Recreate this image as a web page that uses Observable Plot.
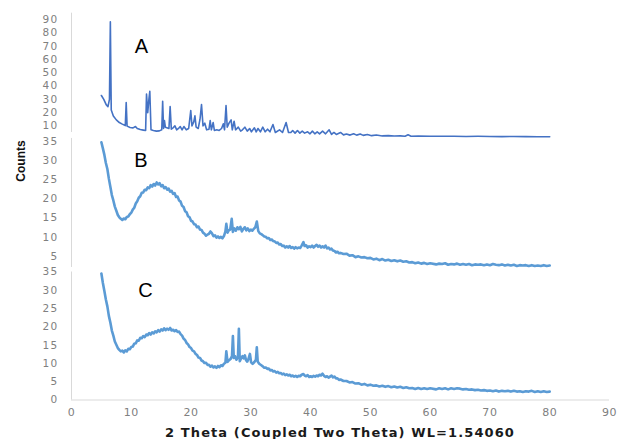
<!DOCTYPE html>
<html><head><meta charset="utf-8">
<script src="https://cdn.jsdelivr.net/npm/d3@7"></script>
<script src="https://cdn.jsdelivr.net/npm/@observablehq/plot@0.6"></script>
<style>
body{margin:0;background:#fff;}
#chart{position:relative;width:618px;height:439px;overflow:hidden;background:#fff;}
#chart svg{position:absolute;left:0;}
#chart svg text{letter-spacing:1.3px;}
#chart svg g[aria-label="x-axis tick label"] text{letter-spacing:0.6px;}
.ylab{position:absolute;left:-19px;top:154px;width:80px;line-height:16px;text-align:center;transform:rotate(-90deg);transform-origin:50% 50%;font:bold 12px "Liberation Sans",sans-serif;color:#111;}
.xlab{position:absolute;left:140px;top:425px;width:400px;line-height:16px;text-align:center;font:bold 13px "DejaVu Sans",sans-serif;letter-spacing:1.1px;color:#1a1a1a;}
</style></head>
<body><div id="chart"></div>
<script>
// ---- data ----
const xTicks = [0,10,20,30,40,50,60,70,80,90];
const yTicksA = [10,20,30,40,50,60,70,80,90];
const yTicksB = [5,10,15,20,25,30,35];
const yTicksC = [0,5,10,15,20,25,30,35];
const panelNames = ["A","B","C"];
const xTitle = "2 Theta (Coupled Two Theta) WL=1.54060";
const yTitle = "Counts";

const traceA = [[5.0,32.9],[5.4,30],[5.8,26],[6.1,24.5],[6.35,30],[6.5,88.5],[6.65,22],[7.0,17.5],[7.5,14.5],[8.0,12.5],[8.5,11.3],[9.0,10.2],[9.15,27.5],[9.3,9.8],[9.8,8.8],[10.3,8.5],[10.7,9.5],[11.0,8.0],[11.5,7.2],[12.0,6.8],[12.4,6.5],[12.55,34],[12.75,20],[12.95,30],[13.1,36],[13.3,7],[13.7,6.5],[14.2,6],[14.7,6.2],[15.1,7],[15.25,28.5],[15.4,8],[15.55,14],[15.7,9],[16.3,8],[16.5,24.5],[16.7,7.5],[17.0,8.5],[17.3,10],[17.6,7],[18.0,8.5],[18.2,9.5],[18.5,7],[18.8,9.5],[19.2,7],[19.6,8],[19.95,21.5],[20.15,10],[20.45,13],[20.65,17.5],[20.85,9],[21.2,8],[21.5,15],[21.75,26],[22.0,10],[22.3,12],[22.6,7],[23.0,7.5],[23.2,14],[23.4,7],[23.7,12.5],[23.9,6.5],[24.3,7],[24.7,6.5],[25.1,8],[25.4,11.5],[25.6,7],[25.85,25.4],[26.05,9],[26.35,12],[26.7,14.5],[26.9,7],[27.2,13.5],[27.45,7],[27.9,9],[28.3,6],[28.6,7],[29.0,9],[29.4,6],[29.8,8],[30.1,5.5],[30.6,8.5],[30.9,5.5],[31.2,8],[31.6,5.5],[32.0,9],[32.4,5.5],[32.8,7.5],[33.2,5.5],[33.7,11],[34.1,5],[34.8,7],[35.3,5],[35.9,12.5],[36.3,5],[36.7,5],[37.0,6.5],[37.4,4.5],[37.8,6.5],[38.2,4.5],[38.6,6],[39.0,4.5],[39.5,5.5],[39.9,4],[40.3,6],[40.7,4],[41.1,5.5],[41.5,4],[42.0,6],[42.5,4],[43.1,7],[43.5,3.5],[43.9,5],[44.3,3.5],[45.0,5],[45.5,3.2],[46.0,3.8],[46.6,3],[47.2,4],[47.7,3],[48.3,3.8],[48.8,2.8],[49.5,3.5],[50.2,2.6],[51.0,3.1],[52.0,2.4],[53.0,2.6],[54.0,2.3],[55.0,2.4],[55.8,2.2],[56.3,3.3],[56.8,2.2],[58.0,2.3],[60.0,2.1],[62.0,2.2],[64.0,2.1],[66.0,2.0],[68.0,2.1],[70.0,2.0],[72.0,1.9],[74.0,2.0],[76.0,1.9],[78.0,1.8],[80.0,1.8]];

const traceB = [[5.0,34.8],[5.25,33.2],[5.5,31.5],[5.75,29.4],[6.0,27.8],[6.25,25.3],[6.5,23.2],[6.75,21.0],[7.0,19.6],[7.25,18.0],[7.5,16.9],[7.75,15.8],
[8.0,15.2],[8.25,14.8],[8.5,14.5],[8.75,14.9],[9.0,14.7],[9.25,15.3],[9.5,15.4],[9.75,16.0],[10.0,16.4],[10.25,17.2],[10.5,17.7],[10.75,18.8],[11.0,19.4],[11.25,20.3],[11.5,20.7],[11.75,21.6],[12.0,21.7],[12.25,22.4],[12.5,22.3],[12.75,23.0],[13.0,22.8],[13.25,23.6],[13.5,23.2],[13.75,23.9],[14.0,23.5],[14.25,24.3],[14.5,23.8],[14.75,24.1],[15.0,23.3],[15.25,23.6],[15.5,22.8],[15.75,23.1],[16.0,22.4],[16.25,22.7],[16.5,21.9],[16.75,22.1],[17.0,21.3],[17.25,21.5],[17.5,20.5],[17.75,20.6],[18.0,19.6],[18.25,19.3],[18.5,18.2],[18.75,17.9],[19.0,16.8],[19.25,16.5],[19.5,15.5],[19.75,15.2],[20.0,14.3],[20.25,14.1],[20.5,13.4],[20.75,13.3],[21.0,12.6],[21.25,12.8],[21.5,12.0],[21.75,11.9],[22.0,11.2],[22.25,10.9],[22.5,10.4],[22.75,10.7],[23.0,10.9],[23.25,11.5],[23.5,11.0],[23.75,10.3],[24.0,10.5],[24.25,9.9],[24.5,10.2],[24.75,9.8],[25.0,10.1],[25.25,9.7],[25.5,10.3],[25.75,11.5],[25.9,13.5],[26.1,11.2],[26.3,11.8],[26.55,12.0],[26.8,14.8],[27.0,11.4],[27.25,12.3],[27.5,11.7],[27.75,12.6],[28.0,12.1],[28.25,12.7],[28.5,11.5],[28.75,12.2],[29.0,12.6],[29.25,11.8],[29.5,12.3],[29.75,11.6],[30.0,12.0],[30.25,11.7],[30.5,12.2],[30.75,12.6],[31.0,14.1],[31.25,11.6],[31.5,11.0],[31.75,10.8],[32.0,10.5],[32.25,10.2],[32.5,10.1],[32.75,9.7],[33.0,9.8],[33.25,9.3],[33.5,9.4],[33.75,9.0],[34.0,8.9],[34.25,8.5],[34.5,8.6],[34.75,8.1],[35.0,8.2],[35.25,7.7],[35.5,7.8],[35.75,7.3],[36.0,7.6],[36.25,7.3],[36.5,7.7],[36.75,7.2],[37.0,7.4],[37.25,7.0],[37.5,7.4],[37.75,7.1],[38.0,7.3],[38.25,7.2],[38.5,7.8],[38.8,8.7],[39.0,7.7],[39.25,7.9],[39.5,7.3],[39.75,7.6],[40.0,7.4],[40.25,7.8],[40.5,7.3],[40.75,7.7],[41.0,8.0],[41.25,7.5],[41.5,7.8],[41.75,7.3],[42.0,7.6],[42.25,7.3],[42.5,7.8],[42.75,7.1],[43.0,7.3],[43.25,6.8],[43.5,7.0],[43.75,6.5],[44.0,6.4],[44.25,6.0],[44.5,6.2],[44.75,5.8],[45.0,5.9],
[45.5,5.6],[46,5.7],[46.5,5.2],[47,5.3],[47.5,4.8],[48,5.0],[48.5,4.7],[49,4.8],[49.5,4.5],[50,4.6],[50.5,4.2],[51,4.4],[51.5,4.0],[52,4.3],[52.5,3.9],[53,4.1],[53.5,3.8],[54,4.0],[54.5,3.7],[55,3.9],[55.5,3.6],[56,3.7],[56.5,3.4],[57,3.5],[57.5,3.2],[58,3.4],[58.5,3.1],[59,3.3],[59.5,3.0],[60,3.2],[61,2.9],[61.5,3.1],[62,3.0],[62.5,3.2],[63,2.8],[63.5,3.0],[64,2.9],[64.5,3.1],[65,2.8],[65.5,3.0],[66,2.8],[66.5,3.0],[67,2.7],[67.5,2.9],[68,2.8],[68.5,2.9],[69,2.7],[69.5,2.9],[70,2.7],[70.5,3.0],[71,2.8],[71.5,2.7],[72,2.9],[72.5,2.6],[73,2.8],[73.5,2.6],[74,2.8],[74.5,2.5],[75,2.7],[75.5,2.6],[76,2.7],[76.5,2.5],[77,2.7],[77.5,2.5],[78,2.6],[78.5,2.5],[79,2.7],[79.5,2.5],[80,2.6]];

const traceC = [[5.0,34.6],[5.25,32.0],[5.5,29.8],[5.75,27.5],[6.0,25.6],[6.25,23.0],[6.5,21.2],[6.75,19.0],[7.0,17.6],[7.25,16.0],[7.5,15.1],[7.75,14.2],[8.0,13.7],[8.25,13.3],[8.5,13.5],[8.75,13.0],[9.0,13.6],[9.25,13.3],[9.5,14.0],[9.75,13.9],[10.0,14.5],[10.25,14.6],[10.5,15.4],[10.75,15.5],[11.0,16.3],[11.25,16.2],[11.5,17.0],[11.75,16.9],[12.0,17.5],[12.25,17.2],[12.5,17.9],[12.75,17.7],[13.0,18.3],[13.25,17.9],[13.5,18.5],[13.75,18.2],[14.0,18.8],[14.25,18.5],[14.5,19.1],[14.75,18.7],[15.0,19.3],[15.25,19.0],[15.5,19.6],[15.75,19.1],[16.0,19.5],[16.25,19.2],[16.5,19.7],[16.75,19.0],[17.0,19.2],[17.25,18.8],[17.5,19.1],[17.75,18.6],[18.0,18.7],[18.25,18.0],[18.5,17.6],[18.75,16.8],[19.0,16.4],[19.25,15.6],[19.5,15.2],[19.75,14.5],[20.0,14.2],[20.25,13.5],[20.5,13.3],[20.75,12.6],[21.0,12.3],[21.25,11.6],[21.5,11.5],[21.75,10.8],[22.0,10.6],[22.25,10.1],[22.5,10.2],[22.75,9.6],[23.0,9.6],[23.25,9.1],[23.5,9.4],[23.75,8.9],[24.0,9.2],[24.25,8.8],[24.5,9.3],[24.75,9.0],[25.0,9.5],[25.25,9.3],[25.5,9.9],[25.75,10.2],[25.9,13.3],[26.1,10.4],[26.3,10.8],[26.6,11.2],[26.85,12.0],[27.0,17.5],[27.15,11.5],[27.35,12.0],[27.6,11.0],[27.85,11.8],[28.0,19.5],[28.15,10.6],[28.35,11.3],[28.6,12.0],[28.8,11.4],[29.0,12.2],[29.2,10.9],[29.4,10.5],[29.6,11.2],[29.85,12.6],[30.05,10.3],[30.3,9.9],[30.6,10.4],[30.85,11.0],[31.0,14.4],[31.15,10.5],[31.4,9.9],[31.75,9.5],[32.0,9.2],[32.25,8.8],[32.5,8.9],[32.75,8.5],[33.0,8.6],[33.25,8.1],[33.5,8.2],[33.75,7.8],[34.0,7.9],[34.25,7.5],[34.5,7.7],[34.75,7.3],[35.0,7.4],[35.25,7.0],[35.5,7.2],[35.75,6.8],[36.0,7.0],[36.25,6.7],[36.5,6.9],[36.75,6.5],[37.0,6.7],[37.25,6.4],[37.5,6.6],[37.75,6.3],[38.0,6.6],[38.25,6.5],[38.5,6.9],[38.8,7.1],[39.0,6.7],[39.25,6.5],[39.5,6.8],[39.75,6.3],[40.0,6.5],[40.25,6.3],[40.5,6.6],[40.75,6.4],[41.0,6.7],[41.25,6.5],[41.5,6.9],[41.75,6.7],[42.0,7.2],[42.25,6.6],[42.5,6.3],[42.75,6.5],[43.0,6.1],[43.25,6.4],[43.5,6.7],[43.75,6.2],[44.0,6.4],[44.25,5.9],[44.5,5.9],[44.75,5.5],[45.0,5.6],
[45.5,5.2],[46,5.2],[46.5,4.8],[47,4.9],[47.5,4.5],[48,4.6],[48.5,4.2],[49,4.4],[49.5,4.0],[50,4.2],[50.5,3.9],[51,4.0],[51.5,3.7],[52,3.9],[52.5,3.6],[53,3.8],[53.5,3.5],[54,3.7],[54.5,3.4],[55,3.6],[55.5,3.3],[56,3.5],[56.5,3.2],[57,3.3],[57.5,3.0],[58,3.3],[58.5,3.0],[59,3.2],[59.5,3.0],[60,3.2],[61,2.9],[61.5,3.2],[62,3.0],[62.5,3.2],[63,2.9],[63.5,3.2],[64,3.0],[64.5,3.2],[65,3.1],[65.5,2.9],[66,3.0],[66.5,2.8],[67,2.9],[67.5,2.7],[68,2.8],[68.5,2.6],[69,2.7],[69.5,2.5],[70,2.6],[70.5,2.4],[71,2.6],[71.5,2.3],[72,2.5],[72.5,2.4],[73,2.5],[73.5,2.3],[74,2.5],[74.5,2.3],[75,2.4],[75.5,2.2],[76,2.4],[76.5,2.3],[77,2.5],[77.5,2.2],[78,2.4],[78.5,2.2],[79,2.4],[79.5,2.2],[80,2.3]];

// ---- layout / styles ----
const chart = document.getElementById("chart");
function panel(o) {
  const marks = [
    Plot.ruleX([0], {y1: o.axisFrom, y2: o.axisTo, stroke: "#d9d9d9", strokeWidth: 1}),
    Plot.axisY(o.yTicks, {tickSize: 0, tickPadding: 13, fontSize: 10.5, fill: "#808080", label: null}),
    Plot.line(o.data, {x: d => d[0], y: d => d[1], stroke: o.color, strokeWidth: o.sw, strokeLinejoin: "round"}),
    Plot.text([o.name], {x: o.lx, y: o.ly, text: d => d, fontSize: 20, fill: "#000", fontFamily: "Liberation Sans"})
  ];
  if (o.showX) {
    marks.unshift(Plot.ruleY([0], {x1: 0, x2: 90, stroke: "#d9d9d9"}));
    marks.push(Plot.axisX(xTicks, {tickSize: 0, tickPadding: 8, fontSize: 11, fill: "#808080", label: null}));
  }
  const svg = Plot.plot({
    width: 618, height: o.height,
    marginLeft: 71, marginRight: 9, marginTop: o.mt, marginBottom: o.mb,
    style: {background: "transparent", overflow: "visible", fontFamily: "DejaVu Sans", color: "#808080"},
    x: {domain: [0, 90], axis: o.showX ? undefined : null},
    y: {domain: o.domain},
    marks
  });
  svg.style.top = o.top + "px";
  chart.appendChild(svg);
}

panel({data: traceA, name: panelNames[0], color: "#4472c4", sw: 1.6, domain: [0, 95], yTicks: yTicksA,
  top: 0, height: 140, mt: 12.7, mb: 1.4, axisFrom: 5, axisTo: 95, lx: 11.8, ly: 70});
panel({data: traceB, name: panelNames[1], color: "#5b9bd5", sw: 2.6, domain: [0, 35], yTicks: yTicksB,
  top: 136, height: 144, mt: 5, mb: 5, axisFrom: 2.1, axisTo: 35.8, lx: 11.7, ly: 30});
panel({data: traceC, name: panelNames[2], color: "#5b9bd5", sw: 2.6, domain: [0, 35], yTicks: yTicksC,
  top: 266, height: 173, mt: 5.5, mb: 39.5, axisFrom: 0, axisTo: 35, lx: 12.5, ly: 30, showX: true});

const yl = document.createElement("div"); yl.className = "ylab"; yl.textContent = yTitle; chart.appendChild(yl);
const xl = document.createElement("div"); xl.className = "xlab"; xl.textContent = xTitle; chart.appendChild(xl);
</script>
</body></html>
